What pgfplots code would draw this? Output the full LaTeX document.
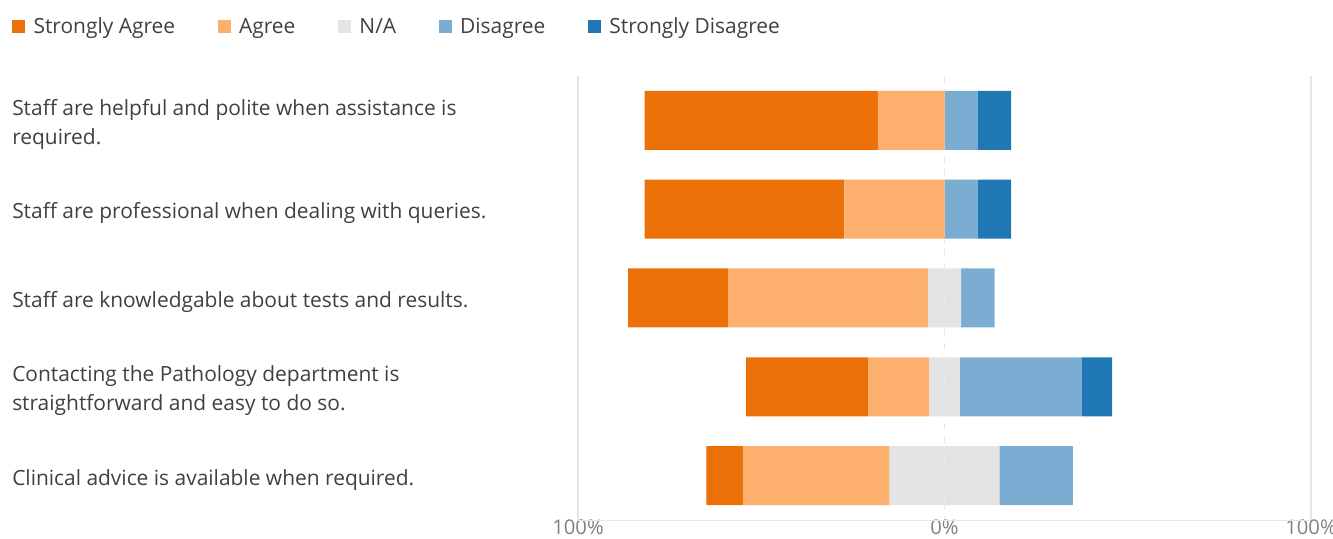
\documentclass[border=0pt]{standalone}
\usepackage{pgfplots}
\pgfplotsset{compat=1.18}
\usepackage{pgfplotstable}
\usepackage{fontspec}
\setmainfont{Open Sans}
\definecolor{csa}{HTML}{EC7008}
\definecolor{ca}{HTML}{FDB06D}
\definecolor{cna}{HTML}{E4E4E4}
\definecolor{cd}{HTML}{7BADD3}
\definecolor{csd}{HTML}{1F77B4}
\definecolor{ctext}{HTML}{404040}
\definecolor{ctick}{HTML}{808080}
\definecolor{cgrid}{HTML}{E6E6E6}
% negative side: N/A (left half), Agree, Strongly Agree; positive side: N/A (right half), Disagree, Strongly Disagree
\pgfplotstableread{
row nal a sa nar d sd
1 0 -18.2 -63.6 0 9.1 9.1
2 0 -27.3 -54.5 0 9.1 9.1
3 -4.55 -54.5 -27.3 4.55 9.1 0
4 -4.15 -16.7 -33.3 4.15 33.3 8.3
5 -15 -40 -10 15 20 0
}\surveydata
\begin{document}
\begin{tikzpicture}
\begin{axis}[
  name=ax,
  scale only axis,
  width=549.75pt, height=333pt,
  xbar stacked,
  bar width=44.25pt,
  xmin=-100, xmax=100,
  ymin=0.5, ymax=5.5,
  y dir=reverse,
  axis line style={draw=none},
  major tick length=0pt,
  xtick={-100,100},
  xticklabels={100\%,100\%},
  extra x ticks={0},
  extra x tick labels={0\%},
  extra x tick style={grid=major, major grid style={cgrid, dashed, dash pattern=on 5pt off 5pt, line width=0.8pt}},
  xmajorgrids,
  major grid style={cgrid, line width=0.8pt},
  ytick={1,2,3,4,5},
  yticklabels={
    {Staff are helpful and polite when assistance is\\required.},
    {Staff are professional when dealing with queries.},
    {Staff are knowledgable about tests and results.},
    {Contacting the Pathology department is\\straightforward and easy to do so.},
    {Clinical advice is available when required.}},
  yticklabel style={anchor=west, align=left, inner sep=0pt, xshift=-424.5pt, yshift=-3pt,
    font=\fontsize{15.7}{21.75}\selectfont, text=ctext},
  xticklabel style={font=\fontsize{15.2}{16}\selectfont, text=ctick, inner sep=0pt, yshift=0.3pt},
  legend columns=5,
  legend style={draw=none, fill=none, inner sep=0pt, at={(-0.7722,1.1104)}, anchor=west,
    font=\fontsize{15.7}{17}\selectfont, text=ctext,
    /tikz/every even column/.append style={column sep=30pt}},
  legend image code/.code={\path[#1] (0pt,-4.8pt) rectangle (9.8pt,5pt); \path (14pt,0pt);},
  extra description/.code={\draw[cgrid, line width=0.6pt] (0,0) -- (1,0);},
]
\addlegendimage{draw=none, fill=csa}\addlegendentry{Strongly Agree}
\addlegendimage{draw=none, fill=ca}\addlegendentry{Agree}
\addlegendimage{draw=none, fill=cna}\addlegendentry{N/A}
\addlegendimage{draw=none, fill=cd}\addlegendentry{Disagree}
\addlegendimage{draw=none, fill=csd}\addlegendentry{Strongly Disagree}
\addplot[draw=none, fill=cna] table[x=nal, y=row] {\surveydata};
\addplot[draw=none, fill=ca] table[x=a, y=row] {\surveydata};
\addplot[draw=none, fill=csa] table[x=sa, y=row] {\surveydata};
\addplot[draw=none, fill=cna] table[x=nar, y=row] {\surveydata};
\addplot[draw=none, fill=cd] table[x=d, y=row] {\surveydata};
\addplot[draw=none, fill=csd] table[x=sd, y=row] {\surveydata};
\end{axis}
\pgfresetboundingbox
\path ([xshift=-433.5pt,yshift=-14.25pt]ax.south west) rectangle ([xshift=16.5pt,yshift=57pt]ax.north east);
\end{tikzpicture}
\end{document}
